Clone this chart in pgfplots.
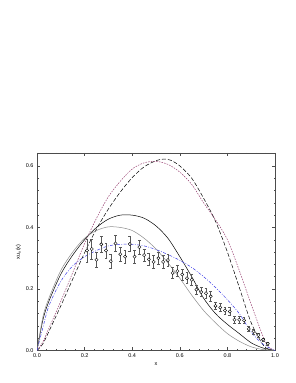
\documentclass[border=0pt]{standalone}
\usepackage{fontspec}
\setmainfont{Liberation Sans}
\usepackage{pgfplots}
\pgfplotsset{compat=1.18}
\definecolor{mauve}{RGB}{150,60,110}
\definecolor{dblue}{RGB}{60,60,230}
\begin{document}
\begin{tikzpicture}[x=1bp,y=1bp]
\path[use as bounding box] (0,0) rectangle (296,383);
\begin{axis}[
  at={(37bp,32.5bp)}, anchor=south west,
  scale only axis, width=238bp, height=197.5bp,
  xmin=0, xmax=1, ymin=0, ymax=0.642,
  xtick={0,0.2,0.4,0.6,0.8,1}, ytick={0,0.2,0.4,0.6},
  minor x tick num=4, minor y tick num=4,
  tick align=inside, major tick length=3bp, minor tick length=1.5bp,
  tick style={black!70, line width=0.4pt},
  /pgf/number format/.cd, fixed, fixed zerofill, precision=1, assume math mode=true,
  /pgfplots/.cd,
  tick label style={font=\fontsize{5.5}{6}\selectfont},
  label style={font=\fontsize{5.5}{6}\selectfont},
  xlabel={x}, ylabel={xu\textsubscript{v}(x)},
  xlabel style={yshift=2bp},
  ylabel style={yshift=-2bp},
  axis line style={black!70, line width=0.4pt},
]
% black long dashed
\addplot[black, line width=0.5pt, dash pattern=on 4bp off 2bp, smooth] coordinates {
(0,0) (0.025,0.022) (0.05,0.062) (0.1,0.145) (0.15,0.232) (0.2,0.318) (0.25,0.395)
(0.3,0.46) (0.35,0.515) (0.4,0.562) (0.45,0.597) (0.5,0.617) (0.53,0.622) (0.56,0.619)
(0.6,0.6) (0.65,0.56) (0.7,0.495) (0.75,0.42) (0.8,0.32) (0.85,0.205) (0.9,0.09)
(0.95,0.018) (0.975,0.004) (1,0)};
% mauve short dashed
\addplot[mauve, line width=0.5pt, dash pattern=on 1.5bp off 1.2bp, smooth] coordinates {
(0,0) (0.025,0.028) (0.05,0.072) (0.1,0.16) (0.15,0.253) (0.2,0.348) (0.25,0.43)
(0.3,0.5) (0.35,0.55) (0.4,0.59) (0.45,0.61) (0.5,0.615) (0.55,0.605) (0.6,0.58)
(0.65,0.54) (0.7,0.48) (0.75,0.425) (0.8,0.36) (0.85,0.26) (0.9,0.15) (0.95,0.045)
(0.975,0.01) (1,0)};
% black solid
\addplot[black, line width=0.5pt, smooth] coordinates {
(0,0) (0.025,0.1) (0.05,0.16) (0.1,0.248) (0.15,0.31) (0.2,0.36) (0.25,0.4)
(0.3,0.427) (0.35,0.44) (0.4,0.44) (0.45,0.43) (0.5,0.405) (0.55,0.365) (0.6,0.305)
(0.65,0.24) (0.7,0.17) (0.75,0.12) (0.8,0.085) (0.85,0.055) (0.9,0.025) (0.95,0.008) (1,0)};
% gray solid
\addplot[black!45, line width=0.5pt, smooth] coordinates {
(0,0) (0.025,0.11) (0.05,0.17) (0.1,0.26) (0.15,0.32) (0.2,0.365) (0.25,0.39)
(0.3,0.402) (0.35,0.4) (0.4,0.39) (0.45,0.365) (0.5,0.33) (0.55,0.285) (0.6,0.235)
(0.65,0.18) (0.7,0.13) (0.75,0.09) (0.8,0.055) (0.85,0.03) (0.9,0.012) (0.95,0.003) (1,0)};
% blue dash-dot
\addplot[dblue, line width=0.5pt, dash pattern=on 3bp off 1.5bp on 0.8bp off 1.5bp, smooth] coordinates {
(0,0) (0.025,0.075) (0.05,0.145) (0.1,0.225) (0.15,0.275) (0.2,0.305) (0.25,0.325)
(0.3,0.34) (0.35,0.345) (0.4,0.345) (0.45,0.34) (0.5,0.328) (0.55,0.312) (0.6,0.293)
(0.65,0.27) (0.7,0.24) (0.75,0.205) (0.8,0.165) (0.85,0.12) (0.9,0.06) (0.95,0.02) (1,0)};
% data
\addplot[only marks, mark=*, mark size=1.6bp, black,
  mark options={fill=white, draw=black, line width=0.4pt},
  error bars/.cd, y dir=both, y explicit,
  error bar style={black!65, line width=0.5pt},
  error mark options={rotate=90, mark size=1.4bp, black!65, line width=0.5pt}]
  table[x=x, y=y, y error=e] {
x y e
0.21 0.325 0.038
0.23 0.33 0.032
0.25 0.295 0.025
0.27 0.345 0.025
0.29 0.325 0.025
0.31 0.29 0.022
0.33 0.348 0.025
0.35 0.313 0.022
0.37 0.305 0.022
0.39 0.346 0.025
0.41 0.305 0.02
0.43 0.336 0.022
0.45 0.31 0.02
0.47 0.296 0.02
0.49 0.288 0.02
0.51 0.30 0.02
0.53 0.288 0.02
0.55 0.294 0.02
0.57 0.252 0.018
0.59 0.258 0.018
0.61 0.247 0.018
0.63 0.235 0.018
0.65 0.23 0.018
0.67 0.198 0.015
0.69 0.19 0.015
0.71 0.186 0.015
0.73 0.176 0.015
0.75 0.145 0.012
0.77 0.14 0.012
0.79 0.13 0.012
0.81 0.127 0.012
0.83 0.1 0.01
0.85 0.1 0.01
0.87 0.098 0.01
0.89 0.07 0.008
0.91 0.062 0.008
0.93 0.05 0.007
0.95 0.035 0.006
0.97 0.022 0.005
};
\end{axis}
\end{tikzpicture}
\end{document}
